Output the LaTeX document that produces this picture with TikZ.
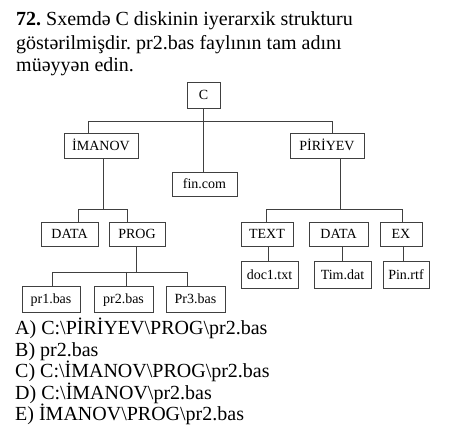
\documentclass[tikz,border=0pt]{standalone}
\usepackage{fontspec}
\setmainfont{Liberation Serif}
\frenchspacing
\begin{document}
\begin{tikzpicture}[x=1pt,y=-1pt,
  box/.style={draw=black!75, line width=0.9pt, inner sep=0pt,
    font=\fontsize{14}{16}\selectfont, text height=9.3pt, text depth=0pt},
  link/.style={draw=black!75, line width=0.9pt},
  txt/.style={anchor=base west, inner sep=0pt, font=\fontsize{20}{22}\selectfont}]
\useasboundingbox (0,0) rectangle (453,430);
% question
\node[txt] (q1) at (16,26) {\textbf{72.} Sxemdə C diskinin iyerarxik strukturu};
\node[txt] (q2) at (16,49.5) {göstərilmişdir. pr2.bas faylının tam adını};
\node[txt] (q3) at (16,72) {müəyyən edin.};
% boxes
\node[box, minimum width=33pt, minimum height=26pt] (C) at (203.5,95) {C};
\node[box, minimum width=74pt, minimum height=25pt] (iman) at (101,145.5) {İMANOV};
\node[box, minimum width=74pt, minimum height=25pt] (piri) at (327,145.5) {PİRİYEV};
\node[box, minimum width=65pt, minimum height=24pt] (fin) at (204.5,184) {fin.com};
\node[box, minimum width=57pt, minimum height=24pt] (dataA) at (69.5,234) {DATA};
\node[box, minimum width=56pt, minimum height=24pt] (prog) at (137,234) {PROG};
\node[box, minimum width=52pt, minimum height=24pt] (text) at (267,234) {TEXT};
\node[box, minimum width=59pt, minimum height=24pt] (dataB) at (338.5,234) {DATA};
\node[box, minimum width=42pt, minimum height=24pt] (ex) at (401,234) {EX};
\node[box, minimum width=57pt, minimum height=27pt] (doc) at (269.5,274.5) {doc1.txt};
\node[box, minimum width=57pt, minimum height=27pt] (tim) at (342.5,274.5) {Tim.dat};
\node[box, minimum width=46pt, minimum height=27pt] (pin) at (406,274.5) {Pin.rtf};
\node[box, minimum width=58pt, minimum height=26pt] (pr1) at (51,299) {pr1.bas};
\node[box, minimum width=59pt, minimum height=26pt] (pr2) at (123.5,299) {pr2.bas};
\node[box, minimum width=59pt, minimum height=26pt] (pr3) at (195.5,299) {Pr3.bas};
% connector coordinates
\coordinate (b0L) at (88,121);
\coordinate (b0R) at (332,121);
\coordinate (i0) at (103,209);
\coordinate (iL) at (78,209);
\coordinate (iR) at (127,209);
\coordinate (p0) at (340,209);
\coordinate (pL) at (266,209);
\coordinate (pR) at (402,209);
\coordinate (g0) at (136,272);
\coordinate (gL) at (52,272);
\coordinate (gM) at (126,272);
\coordinate (gR) at (187,272);
\coordinate (tX) at (268,0);
\coordinate (dX) at (342,0);
\coordinate (eX) at (403,0);
% connectors
\draw[link] (C.south) -- (C.south |- fin.north);
\draw[link] (iman.north -| b0L) -- (b0L) -- (b0R) -- (piri.north -| b0R);
\draw[link] (iman.south -| i0) -- (i0);
\draw[link] (dataA.north -| iL) -- (iL) -- (iR) -- (prog.north -| iR);
\draw[link] (piri.south -| p0) -- (p0);
\draw[link] (text.north -| pL) -- (pL) -- (pR) -- (ex.north -| pR);
\draw[link] (prog.south -| g0) -- (g0);
\draw[link] (pr1.north -| gL) -- (gL) -- (gR) -- (pr3.north -| gR);
\draw[link] (gM) -- (pr2.north -| gM);
\draw[link] (text.south -| tX) -- (doc.north -| tX);
\draw[link] (dataB.south -| dX) -- (tim.north -| dX);
\draw[link] (ex.south -| eX) -- (pin.north -| eX);
% answers
\node[txt] (a1) at (15,335) {A) C:\textbackslash PİRİYEV\textbackslash PROG\textbackslash pr2.bas};
\node[txt] (a2) at (15,356.5) {B) pr2.bas};
\node[txt] (a3) at (15,378) {C) C:\textbackslash İMANOV\textbackslash PROG\textbackslash pr2.bas};
\node[txt] (a4) at (15,399.5) {D) C:\textbackslash İMANOV\textbackslash pr2.bas};
\node[txt] (a5) at (15,421) {E) İMANOV\textbackslash PROG\textbackslash pr2.bas};
\end{tikzpicture}
\end{document}
